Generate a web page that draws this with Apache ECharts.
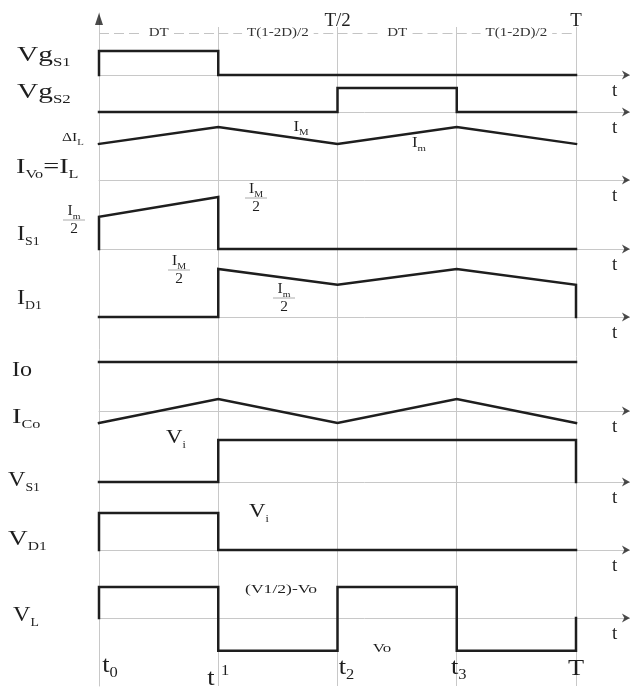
<!DOCTYPE html>
<html>
<head>
<meta charset="utf-8">
<script src="https://cdn.jsdelivr.net/npm/echarts@6/dist/echarts.min.js"></script>
<style>
  html, body { margin: 0; padding: 0; background: #fff; }
  #chart { width: 630px; height: 689px; }
</style>
</head>
<body>
<div id="chart"></div>
<script>
// switching instants, in units of the period T (D = 0.25)
const edges = [0, 0.25, 0.5, 0.75, 1];
const edgeLabels = [['t', '0'], ['t', '1'], ['t', '2'], ['t', '3'], ['T', '']];
const topLabels = ['', '', 'T/2', '', 'T'];
const spanLabels = ['DT', 'T(1-2D)/2', 'DT', 'T(1-2D)/2'];

// waveforms as [time, level], level normalised per trace
const vgs1 = [[0, 0], [0, 1], [0.25, 1], [0.25, 0], [1, 0]];
const vgs2 = [[0, 0], [0.5, 0], [0.5, 1], [0.75, 1], [0.75, 0], [1, 0]];
const iL = [[0, 0.68], [0.25, 1], [0.5, 0.68], [0.75, 1], [1, 0.68]];
const iS1 = [[0, 0], [0, 0.62], [0.25, 1], [0.25, 0], [1, 0]];
const iD1 = [[0, 0], [0.25, 0], [0.25, 1], [0.5, 0.67], [0.75, 1], [1, 0.67], [1, 0]];
const iO = [[0, 1], [1, 1]];
const iCo = [[0, -1], [0.25, 1], [0.5, -1], [0.75, 1], [1, -1]];
const vS1 = [[0, 0], [0.25, 0], [0.25, 1], [1, 1], [1, 0]];
const vD1 = [[0, 0], [0, 1], [0.25, 1], [0.25, 0], [1, 0]];
const vL = [[0, 0], [0, 1], [0.25, 1], [0.25, -1.06], [0.5, -1.06], [0.5, 1], [0.75, 1], [0.75, -1.06], [1, -1.06], [1, 0]];

// trace names: [main, subscript] pieces
const rowNames = [
  [['Vg', 'S1']],
  [['Vg', 'S2']],
  [['I', 'Vo'], ['=I', 'L']],
  [['I', 'S1']],
  [['I', 'D1']],
  [['Io', '']],
  [['I', 'Co']],
  [['V', 'S1']],
  [['V', 'D1']],
  [['V', 'L']]
];

// ---- layout (pixels) ----
const FONT = 'Liberation Serif';
const INK = '#1e1e1e';
const GRAY = '#c8c8c8';
const X0 = 99, XT = 576;          // t0 and T
const X_END = 1.113;              // arrows run a bit past T
const PLOT_W = (XT - X0) * X_END;
const FRAME_TOP = 13, FRAME_BOTTOM = 686;
const fy = py => (FRAME_BOTTOM - py) / (FRAME_BOTTOM - FRAME_TOP);

const rows = [
  { data: vgs1, base: 75, unit: 24, lo: 0, hi: 1, lx: 17, ly: 55, sx: 1.4 },
  { data: vgs2, base: 112, unit: 24, lo: 0, hi: 1, lx: 17, ly: 92, sx: 1.4 },
  { data: iL, base: 180, unit: 53, lo: 0, hi: 1, lx: 16, ly: 167, sx: 1.35 },
  { data: iS1, base: 249, unit: 52, lo: 0, hi: 1, lx: 17, ly: 234, sx: 1.15 },
  { data: iD1, base: 317, unit: 48, lo: 0, hi: 1, lx: 17, ly: 298, sx: 1.15 },
  { data: iO, base: 382, unit: 20, lo: 0, hi: 1, lx: 12, ly: 370, sx: 1.15, axis: false },
  { data: iCo, base: 411, unit: 12, lo: -1, hi: 1, lx: 12, ly: 417, sx: 1.35 },
  { data: vS1, base: 482, unit: 42, lo: 0, hi: 1, lx: 8, ly: 480, sx: 1.15 },
  { data: vD1, base: 550, unit: 37, lo: 0, hi: 1, lx: 8, ly: 539, sx: 1.3 },
  { data: vL, base: 618, unit: 31, lo: -1.06, hi: 1, lx: 13, ly: 615, sx: 1.15 }
];
const FRAME = rows.length;

const RIGHT_ARROW = 'path://M0,0 L10,5 L0,10 L3,5 Z';
const UP_ARROW = 'path://M5,0 L10,12 L0,12 Z';

function rich(parts) {
  return parts.map(p => '{m|' + p[0] + '}' + (p[1] ? '{s|' + p[1] + '}' : '')).join('');
}

function textEl(x, y, text, opt) {
  opt = opt || {};
  const size = opt.size || 21, sub = opt.sub || 12;
  return {
    type: 'text', x: x, y: y, scaleX: opt.sx || 1.2, silent: true, z: 10,
    style: {
      text: text, x: 0, y: 0,
      align: opt.align || 'left', textAlign: opt.align || 'left',
      verticalAlign: 'middle', textVerticalAlign: 'middle',
      fill: opt.color || INK, fontSize: size, fontFamily: FONT,
      backgroundColor: opt.bg, padding: opt.bg ? [0, 4] : 0,
      rich: {
        m: { fontSize: size, fontFamily: FONT, lineHeight: size + 6, fill: opt.color || INK },
        s: { fontSize: sub, fontFamily: FONT, lineHeight: sub, verticalAlign: 'bottom', fill: opt.color || INK },
        u: { fontSize: sub, fontFamily: FONT, lineHeight: sub, verticalAlign: 'top', fill: opt.color || INK }
      }
    }
  };
}

function fracEl(cx, barY, sub) {
  return {
    type: 'group', silent: true, children: [
      textEl(cx, barY - 9, rich([['I', sub]]), { size: 14, sub: 9, align: 'center', sx: 1.1 }),
      { type: 'line', shape: { x1: cx - 11, y1: barY, x2: cx + 11, y2: barY }, style: { stroke: '#aaa', lineWidth: 1 } },
      textEl(cx, barY + 9, rich([['2', '']]), { size: 14, align: 'center', sx: 1.1 })
    ]
  };
}

const chart = echarts.init(document.getElementById('chart'));

const grids = rows.map(r => ({
  left: X0, width: PLOT_W, top: r.base - r.unit * r.hi, height: r.unit * (r.hi - r.lo)
}));
grids.push({ left: X0, width: PLOT_W, top: FRAME_TOP, height: FRAME_BOTTOM - FRAME_TOP });

const xAxes = rows.map((r, i) => ({
  type: 'value', gridIndex: i, min: 0, max: X_END,
  axisLine: { show: r.axis !== false, onZero: true, lineStyle: { color: GRAY, width: 1 } },
  axisTick: { show: false }, axisLabel: { show: false }, splitLine: { show: false },
  name: r.axis !== false ? 't' : '',
  nameLocation: 'end', nameGap: -18,
  nameTextStyle: { fontFamily: FONT, fontSize: 19, color: INK, verticalAlign: 'top', lineHeight: 20, padding: [6, 0, 0, 0] }
}));
xAxes.push({ type: 'value', gridIndex: FRAME, min: 0, max: X_END, show: false });

const yAxes = rows.map((r, i) => ({ type: 'value', gridIndex: i, min: r.lo, max: r.hi, show: false }));
yAxes.push({
  type: 'value', gridIndex: FRAME, min: 0, max: 1,
  axisLine: { show: true, lineStyle: { color: GRAY, width: 1 } },
  axisTick: { show: false }, axisLabel: { show: false }, splitLine: { show: false }
});

const series = [];
rows.forEach((r, i) => {
  series.push({
    type: 'line', xAxisIndex: i, yAxisIndex: i, data: r.data,
    symbol: 'none', clip: false, silent: true, z: 5,
    lineStyle: { color: INK, width: 2.5, join: 'miter', cap: 'square' }
  });
  if (r.axis !== false) {
    series.push({
      type: 'scatter', xAxisIndex: i, yAxisIndex: i, data: [[X_END, 0]],
      symbol: RIGHT_ARROW, symbolSize: [8, 9], symbolOffset: [-4, 0],
      clip: false, silent: true, itemStyle: { color: INK }
    });
  }
});

// frame: up arrow, vertical guides at each instant, dimension lines
const guides = edges.slice(1).map(e => [{ coord: [e, 0] }, { coord: [e, fy(27)] }]);
const dims = spanLabels.map((s, i) => [
  { coord: [edges[i], fy(33)], lineStyle: { type: [10, 5], color: '#c4c4c4', width: 1 } },
  { coord: [edges[i + 1], fy(33)] }
]);
series.push({
  type: 'scatter', xAxisIndex: FRAME, yAxisIndex: FRAME, data: [[0, 1]],
  symbol: UP_ARROW, symbolSize: [8, 12], symbolOffset: [0, 6],
  clip: false, silent: true, itemStyle: { color: INK },
  markLine: {
    silent: true, symbol: ['none', 'none'], label: { show: false },
    lineStyle: { color: GRAY, width: 1, type: 'solid' },
    data: guides.concat(dims)
  }
});

chart.setOption({
  animation: false,
  backgroundColor: '#fff',
  grid: grids,
  xAxis: xAxes,
  yAxis: yAxes,
  series: series
});

// ---- text ----
const ex = edges.map(e => chart.convertToPixel({ xAxisIndex: FRAME }, e));
const graphic = [];

rows.forEach((r, i) => {
  graphic.push(textEl(r.lx, r.ly, rich(rowNames[i]), { size: 21, sub: 12, sx: r.sx }));
});
graphic.push(textEl(62, 138, rich([['ΔI', 'L']]), { size: 13, sub: 9, sx: 1.2 }));

// span labels on the dimension row
spanLabels.forEach((s, i) => {
  graphic.push(textEl((ex[i] + ex[i + 1]) / 2, 33, rich([[s, '']]), { size: 12, align: 'center', bg: '#fff', color: '#333', sx: 1.25 }));
});
topLabels.forEach((s, i) => {
  if (s) graphic.push(textEl(ex[i], 21, rich([[s, '']]), { size: 18, align: 'center', sx: 1.05 }));
});

// instants along the bottom
const edgeLayout = [
  { dx: 11, y: 666 }, { dx: 0, y: 679, sup: true }, { dx: 9, y: 668 }, { dx: 2, y: 668 }, { dx: 0, y: 669 }
];
edgeLabels.forEach((l, i) => {
  const L = edgeLayout[i];
  const txt = L.sup ? '{m|' + l[0] + ' }{u|' + l[1] + '}' : rich([l]);
  graphic.push(textEl(ex[i] + L.dx, L.y, txt, { size: 24, sub: 15, align: 'center', sx: 1.1 }));
});

// annotations
graphic.push(textEl(301, 127, rich([['I', 'M']]), { size: 14, sub: 9, align: 'center' }));
graphic.push(textEl(419, 143, rich([['I', 'm']]), { size: 14, sub: 9, align: 'center' }));
graphic.push(textEl(176, 438, rich([['V', 'i']]), { size: 19, sub: 10, align: 'center' }));
graphic.push(textEl(259, 512, rich([['V', 'i']]), { size: 19, sub: 10, align: 'center' }));
graphic.push(textEl(281, 590, rich([['(V1/2)-Vo', '']]), { size: 13, align: 'center', sx: 1.35 }));
graphic.push(textEl(382, 649, rich([['Vo', '']]), { size: 13, align: 'center', sx: 1.3 }));
graphic.push(fracEl(74, 220, 'm'));
graphic.push(fracEl(256, 198, 'M'));
graphic.push(fracEl(179, 270, 'M'));
graphic.push(fracEl(284, 298, 'm'));

chart.setOption({ graphic: graphic });
</script>
</body>
</html>
